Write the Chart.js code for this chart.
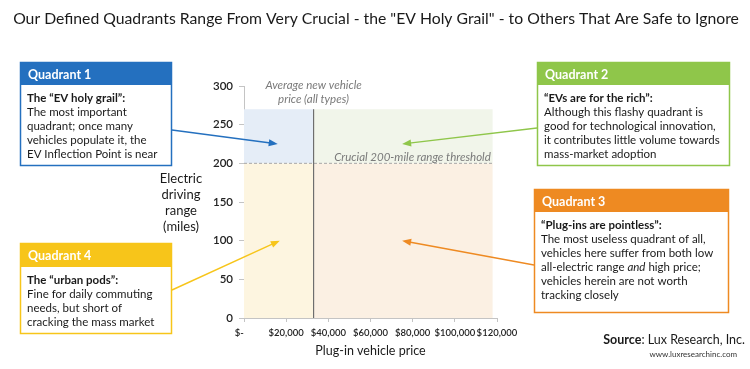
<!DOCTYPE html>
<html>
<head>
<meta charset="utf-8">
<script src="https://cdn.jsdelivr.net/npm/chart.js@4.4.1/dist/chart.umd.min.js"></script>
<style>
  html, body { margin: 0; padding: 0; background: #fff; }
</style>
</head>
<body>
<canvas id="quadChart" width="750" height="369"></canvas>
<script>
// --- chart values ---
const yTicks = [0, 50, 100, 150, 200, 250, 300];
const xTicks = [0, 20000, 40000, 60000, 80000, 100000, 120000];
const xTickLabels = ['$-    ', '$20,000', '$40,000', '$60,000', '$80,000', '$100,000', '$120,000'];
const avgNewVehiclePrice = 33000;     // vertical divider
const rangeThreshold = 200;           // horizontal divider (miles)
const shadedTop = 270;                // top of the shaded quadrants
const shadedRight = 118000;           // right edge of the shaded quadrants
// arrow tips [price, range] for quadrants 1..4
const calloutTips = [[16000, 225], [75000, 225], [75000, 100], [17000, 100]];

const quadrantNames = ['Quadrant 1', 'Quadrant 2', 'Quadrant 3', 'Quadrant 4'];
const quadrantHeadlines = ['The \u201cEV holy grail\u201d:', '\u201cEVs are for the rich\u201d:', '\u201cPlug-ins are pointless\u201d:', 'The \u201curban pods\u201d:'];
const quadrantBodies = [
  ['The most important', 'quadrant; once many', 'vehicles populate it, the', 'EV Inflection Point is near'],
  ['Although this flashy quadrant is', 'good for technological innovation,', 'it contributes little volume towards', 'mass-market adoption'],
  ['The most useless quadrant of all,', 'vehicles here suffer from both low', 'all-electric range |and| high price;', 'vehicles herein are not worth', 'tracking closely'],
  ['Fine for daily commuting', 'needs, but short of', 'cracking the mass market']
];

// colours: strong (boxes) and pale (plot regions)
const strongColors = ['#2470bf', '#8fc64a', '#ee8a22', '#f7c51a'];
const paleColors = ['#e5edf7', '#f1f5ea', '#fbf0e3', '#fdf5e0'];

// callout box geometry (pixels) - left, top, width, header height, body height
const boxes = [
  { x: 20, y: 62, w: 152, hh: 23, bh: 81 },
  { x: 537, y: 62, w: 193, hh: 23, bh: 81 },
  { x: 534, y: 189, w: 195, hh: 23, bh: 101 },
  { x: 20, y: 243, w: 152, hh: 24, bh: 67 }
];

const FONT = "Lato, 'Open Sans', sans-serif";
const TITLE = 'Our Defined Quadrants Range From Very Crucial - the "EV Holy Grail" - to Others That Are Safe to Ignore';

function drawArrow(ctx, x0, y0, x1, y1, color) {
  const ang = Math.atan2(y1 - y0, x1 - x0);
  const len = 9, half = 3.5;
  ctx.save();
  ctx.strokeStyle = color;
  ctx.fillStyle = color;
  ctx.lineWidth = 1.4;
  ctx.beginPath();
  ctx.moveTo(x0, y0);
  ctx.lineTo(x1 - Math.cos(ang) * len * 0.8, y1 - Math.sin(ang) * len * 0.8);
  ctx.stroke();
  ctx.beginPath();
  ctx.moveTo(x1, y1);
  ctx.lineTo(x1 - Math.cos(ang) * len - Math.sin(ang) * half, y1 - Math.sin(ang) * len + Math.cos(ang) * half);
  ctx.lineTo(x1 - Math.cos(ang) * len + Math.sin(ang) * half, y1 - Math.sin(ang) * len - Math.cos(ang) * half);
  ctx.closePath();
  ctx.fill();
  ctx.restore();
}

// draws a line where |...| marks an italic part
function drawRichLine(ctx, text, x, y, size) {
  const parts = text.split('|');
  let cx = x;
  parts.forEach((p, i) => {
    ctx.font = (i % 2 ? 'italic ' : '') + size + 'px ' + FONT;
    ctx.fillText(p, cx, y);
    cx += ctx.measureText(p).width;
  });
}

const overlayPlugin = {
  id: 'overlay',
  afterDraw(chart) {
    const ctx = chart.ctx;
    const xs = chart.scales.x, ys = chart.scales.y;
    ctx.save();
    ctx.textBaseline = 'middle';

    // title, sized to span the same width as the reference
    ctx.fillStyle = '#1a1a1a';
    ctx.textAlign = 'center';
    let ts = 17;
    ctx.font = ts + 'px ' + FONT;
    while (ctx.measureText(TITLE).width > 728 && ts > 10) {
      ts -= 0.25;
      ctx.font = ts + 'px ' + FONT;
    }
    ctx.fillText(TITLE, 376, 19);

    // y axis title
    ctx.font = '13px ' + FONT;
    ['Electric', 'driving', 'range', '(miles)'].forEach((t, i) => ctx.fillText(t, 181, 179 + i * 16));

    // x axis title
    ctx.font = '12.5px ' + FONT;
    ctx.fillText('Plug-in vehicle price', (chart.chartArea.left + chart.chartArea.right) / 2, 351);

    // in-plot notes
    ctx.fillStyle = '#7a7a7a';
    ctx.font = 'italic 11.5px ' + FONT;
    const avgX = xs.getPixelForValue(avgNewVehiclePrice);
    ctx.fillText('Average new vehicle', avgX, 85);
    ctx.fillText('price (all types)', avgX, 99);
    ctx.textAlign = 'right';
    ctx.fillText('Crucial 200-mile range threshold', xs.getPixelForValue(shadedRight) - 2, ys.getPixelForValue(rangeThreshold) - 6);

    // callout boxes
    boxes.forEach((b, i) => {
      ctx.fillStyle = strongColors[i];
      ctx.fillRect(b.x, b.y, b.w, b.hh);
      ctx.fillStyle = '#fff';
      ctx.fillRect(b.x, b.y + b.hh, b.w, b.bh);
      ctx.strokeStyle = strongColors[i];
      ctx.lineWidth = 1.5;
      ctx.strokeRect(b.x + 0.5, b.y + 0.5, b.w - 1, b.hh + b.bh - 1);

      ctx.textAlign = 'left';
      ctx.fillStyle = '#fff';
      ctx.font = 'bold 12.5px ' + FONT;
      ctx.fillText(quadrantNames[i], b.x + 8, b.y + b.hh / 2 + 1);

      ctx.fillStyle = '#1a1a1a';
      const lx = b.x + 7;
      let ly = b.y + b.hh + 13;
      ctx.font = 'bold 11.5px ' + FONT;
      ctx.fillText(quadrantHeadlines[i], lx, ly);
      quadrantBodies[i].forEach(line => {
        ly += 14;
        drawRichLine(ctx, line, lx, ly, 11.5);
      });
    });

    // arrows from boxes to the quadrants
    const starts = [
      [boxes[0].x + boxes[0].w, 130],
      [boxes[1].x, 128],
      [boxes[2].x, 265],
      [boxes[3].x + boxes[3].w, 290]
    ];
    calloutTips.forEach((tip, i) => {
      drawArrow(ctx, starts[i][0], starts[i][1], xs.getPixelForValue(tip[0]), ys.getPixelForValue(tip[1]), strongColors[i]);
    });

    // source
    ctx.textAlign = 'left';
    ctx.fillStyle = '#1a1a1a';
    ctx.font = 'bold 12.5px ' + FONT;
    const srcBold = 'Source';
    const srcRest = ': Lux Research, Inc.';
    const wBold = ctx.measureText(srcBold).width;
    ctx.font = '12.5px ' + FONT;
    const wRest = ctx.measureText(srcRest).width;
    const sx = 745 - wBold - wRest;
    ctx.font = 'bold 12.5px ' + FONT;
    ctx.fillText(srcBold, sx, 340);
    ctx.font = '12.5px ' + FONT;
    ctx.fillText(srcRest, sx + wBold, 340);
    ctx.font = '8px ' + FONT;
    ctx.textAlign = 'right';
    ctx.fillStyle = '#333';
    ctx.fillText('www.luxresearchinc.com', 737, 354);
    ctx.restore();
  }
};

function region(xFrom, xTo, yBase, yTop, color) {
  return {
    data: [{ x: xFrom, y: yBase }, { x: xTo, y: yBase }],
    showLine: true,
    borderWidth: 0,
    pointRadius: 0,
    backgroundColor: color,
    borderColor: 'rgba(0,0,0,0)',
    fill: { value: yTop }
  };
}

new Chart(document.getElementById('quadChart'), {
  type: 'scatter',
  data: {
    datasets: [
      {
        // average new vehicle price divider
        data: [{ x: avgNewVehiclePrice, y: 0 }, { x: avgNewVehiclePrice, y: shadedTop }],
        showLine: true, borderColor: '#6e6e6e', borderWidth: 1.2, pointRadius: 0, fill: false
      },
      {
        // 200-mile threshold
        data: [{ x: 0, y: rangeThreshold }, { x: shadedRight, y: rangeThreshold }],
        showLine: true, borderColor: '#a8a8a8', borderWidth: 1, borderDash: [3, 2], pointRadius: 0, fill: false
      },
      region(0, avgNewVehiclePrice, rangeThreshold, shadedTop, paleColors[0]),
      region(avgNewVehiclePrice, shadedRight, rangeThreshold, shadedTop, paleColors[1]),
      region(avgNewVehiclePrice, shadedRight, 0, rangeThreshold, paleColors[2]),
      region(0, avgNewVehiclePrice, 0, rangeThreshold, paleColors[3])
    ]
  },
  options: {
    responsive: false,
    animation: false,
    events: [],
    layout: { padding: { left: 150, right: 253, top: 86, bottom: 0 } },
    plugins: { legend: { display: false }, tooltip: { enabled: false } },
    scales: {
      x: {
        type: 'linear',
        min: 0, max: 120000,
        afterBuildTicks: s => { s.ticks = xTicks.map(v => ({ value: v })); },
        afterFit: s => { s.height = 51; },
        border: { color: '#c4c4c4', width: 1 },
        grid: { drawOnChartArea: false, color: '#c4c4c4', tickLength: 4 },
        ticks: {
          autoSkip: false, maxRotation: 0, padding: 5,
          color: '#222', font: { family: FONT, size: 9.5, weight: '600' },
          callback: (v) => xTickLabels[xTicks.indexOf(v)]
        }
      },
      y: {
        min: 0, max: 300,
        afterBuildTicks: s => { s.ticks = yTicks.map(v => ({ value: v })); },
        afterFit: s => { s.width = 94; },
        border: { color: '#c4c4c4', width: 1 },
        grid: { drawOnChartArea: false, color: '#c4c4c4', tickLength: 5 },
        ticks: { padding: 6, color: '#222', font: { family: FONT, size: 11.5, weight: '600' } }
      }
    }
  },
  plugins: [overlayPlugin]
});
</script>
</body>
</html>
